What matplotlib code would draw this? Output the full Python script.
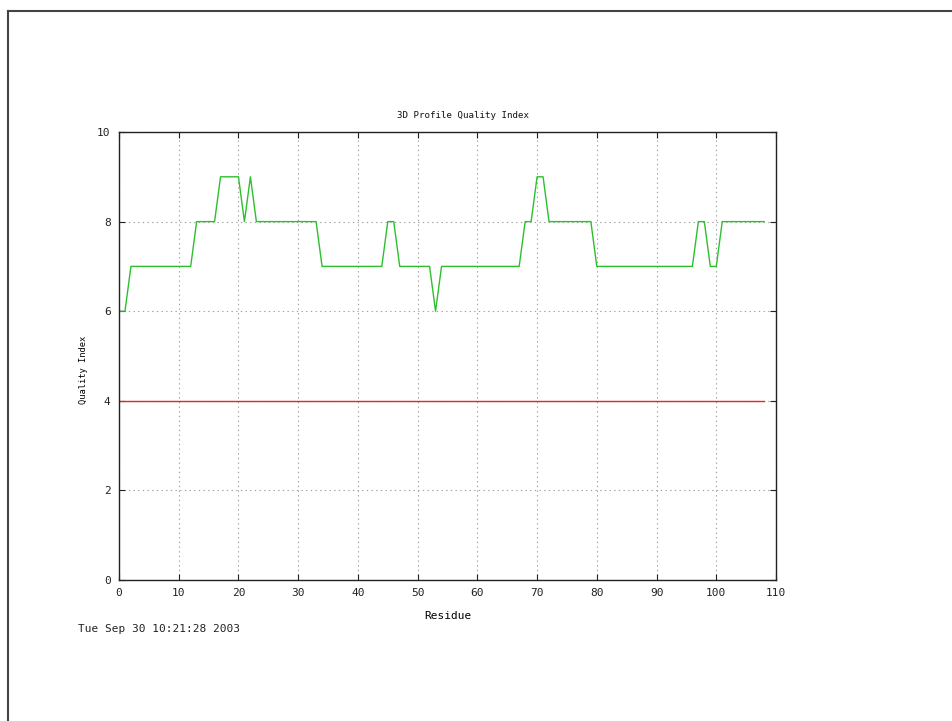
import matplotlib
matplotlib.use('Agg')
import matplotlib.pyplot as plt
from matplotlib.lines import Line2D

# Residue numbers and quality index per residue
residues = list(range(0, 109))
quality = [
    6, 6, 7, 7, 7, 7, 7, 7, 7, 7,   # 0-9
    7, 7, 7, 8, 8, 8, 8, 9, 9, 9,   # 10-19
    9, 8, 9, 8, 8, 8, 8, 8, 8, 8,   # 20-29
    8, 8, 8, 8, 7, 7, 7, 7, 7, 7,   # 30-39
    7, 7, 7, 7, 7, 8, 8, 7, 7, 7,   # 40-49
    7, 7, 7, 6, 7, 7, 7, 7, 7, 7,   # 50-59
    7, 7, 7, 7, 7, 7, 7, 7, 8, 8,   # 60-69
    9, 9, 8, 8, 8, 8, 8, 8, 8, 8,   # 70-79
    7, 7, 7, 7, 7, 7, 7, 7, 7, 7,   # 80-89
    7, 7, 7, 7, 7, 7, 7, 8, 8, 7,   # 90-99
    7, 8, 8, 8, 8, 8, 8, 8, 8,      # 100-108
]
threshold = [4] * len(residues)

x_ticks = [0, 10, 20, 30, 40, 50, 60, 70, 80, 90, 100, 110]
y_ticks = [0, 2, 4, 6, 8, 10]

mono = 'DejaVu Sans Mono'

fig = plt.figure(figsize=(9.52, 7.21), dpi=100)
fig.patch.set_facecolor('white')

# gnuplot-like image frame: top and left edges only
fig.add_artist(Line2D([7.5 / 952, 1.0], [1 - 10.5 / 721] * 2, color='#444444', lw=1.5))
fig.add_artist(Line2D([7.5 / 952] * 2, [0.0, 1 - 10.5 / 721], color='#444444', lw=1.5))

ax = fig.add_axes([119 / 952, 1 - 580 / 721, (776 - 119) / 952, (580 - 132) / 721])

ax.plot(residues, quality, color='#2cc02c', lw=1.0)
ax.plot(residues, threshold, color='#f02020', lw=1.0)

ax.set_xlim(0, 110)
ax.set_ylim(0, 10)
ax.set_xticks(x_ticks)
ax.set_yticks(y_ticks)
ax.grid(True, color='#a0a0a0', linestyle=(0, (1.2, 3)), lw=0.8)
ax.tick_params(direction='in', length=4, width=0.8, top=True, right=True,
               labelsize=8, pad=6, colors='#222222')
for lbl in ax.get_xticklabels() + ax.get_yticklabels():
    lbl.set_fontfamily(mono)
for sp in ax.spines.values():
    sp.set_linewidth(1.0)
    sp.set_color('#222222')

fig.text(463 / 952, 1 - 115 / 721, '3D Profile Quality Index', fontfamily=mono,
         fontsize=6.6, ha='center', va='center', color='#111111')
ax.set_xlabel('Residue', fontfamily=mono, fontsize=8, labelpad=9)
ax.set_ylabel('Quality Index', fontfamily=mono, fontsize=6.3)
ax.yaxis.set_label_coords((88 - 119) / 657, (580 - 370) / 448)

fig.text(78 / 952, 1 - 629 / 721, 'Tue Sep 30 10:21:28 2003', fontfamily=mono,
         fontsize=8, va='center', ha='left', color='#222222')

fig.savefig('out.png', dpi=100, facecolor='white')
